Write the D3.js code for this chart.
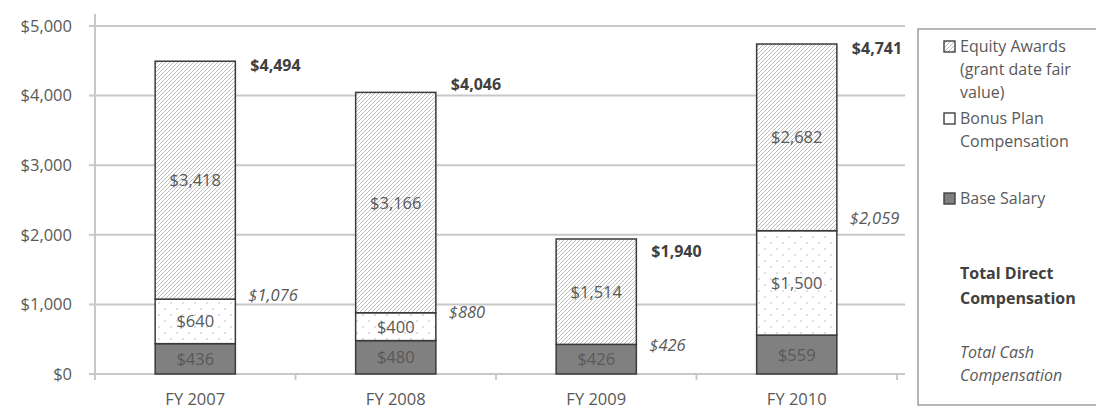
<!DOCTYPE html>
<html><head><meta charset="utf-8">
<script src="https://cdn.jsdelivr.net/npm/d3@7"></script>
<style>body{margin:0;background:#fff}svg{display:block}text{font-family:"Open Sans",Lato,sans-serif}</style>
</head><body><svg id="c" width="1096" height="412"></svg>
<script>
const categories = ["FY 2007","FY 2008","FY 2009","FY 2010"];
const baseSalary = [436,480,426,559];
const bonusPlan = [640,400,0,1500];
const equityAwards = [3418,3166,1514,2682];
const totalDirect = [4494,4046,1940,4741];
const totalCash = [1076,880,426,2059];
const yTicks = [0,1000,2000,3000,4000,5000];
const legendItems = [
  {key:"equity", lines:["Equity Awards","(grant date fair","value)"]},
  {key:"bonus", lines:["Bonus Plan","Compensation"]},
  {key:"base", lines:["Base Salary"]}
];
// label placement nudges (px, layout only)
const directNudge = [10,-2,18,10];
const cashNudge = [2,5,7,-7];

const svg = d3.select("#c");
const defs = svg.append("defs");
const hatch = defs.append("pattern").attr("id","hatch").attr("patternUnits","userSpaceOnUse")
  .attr("width",4).attr("height",4);
hatch.append("rect").attr("width",4).attr("height",4).attr("fill","#fff");
hatch.append("path").attr("d","M-1,1 l2,-2 M0,4 l4,-4 M3,5 l2,-2").attr("stroke","#b4b4b4").attr("stroke-width",0.9);
const dots = defs.append("pattern").attr("id","dots").attr("patternUnits","userSpaceOnUse")
  .attr("width",12).attr("height",12);
dots.append("rect").attr("width",12).attr("height",12).attr("fill","#fff");
dots.append("circle").attr("cx",3).attr("cy",3).attr("r",0.7).attr("fill","#aaa");
dots.append("circle").attr("cx",9).attr("cy",9).attr("r",0.7).attr("fill","#aaa");

const x = d3.scaleBand().domain(categories).range([95,897]).paddingInner(0.6).paddingOuter(0.3);
const y = d3.scaleLinear().domain([0,5000]).range([374,26]);
const grey = "#595959";
const fmt = v=>"$"+d3.format(",")(v);

// gridlines
svg.append("g").selectAll("line").data(yTicks).join("line")
  .attr("x1",95).attr("x2",905).attr("y1",d=>y(d)).attr("y2",d=>y(d))
  .attr("stroke","#c8c8c8").attr("stroke-width",2);
// y axis
const yAxis = svg.append("g").attr("transform","translate(95,0)")
  .call(d3.axisLeft(y).tickValues(yTicks).tickSize(0).tickPadding(23).tickFormat(fmt));
yAxis.select(".domain").remove();
yAxis.selectAll("text").attr("font-size",16.5).attr("fill",grey);
svg.append("line").attr("x1",95).attr("x2",95).attr("y1",14).attr("y2",374).attr("stroke","#c8c8c8").attr("stroke-width",2);
svg.append("g").selectAll("line").data(yTicks).join("line")
  .attr("x1",89).attr("x2",95).attr("y1",d=>y(d)).attr("y2",d=>y(d)).attr("stroke","#c8c8c8").attr("stroke-width",2);
// x ticks
svg.append("g").selectAll("line").data(d3.range(categories.length+1)).join("line")
  .attr("x1",i=>95+i*x.step()).attr("x2",i=>95+i*x.step()).attr("y1",374).attr("y2",380)
  .attr("stroke","#c8c8c8").attr("stroke-width",2);
// x labels
svg.append("g").selectAll("text").data(categories).join("text")
  .attr("x",d=>x(d)+x.bandwidth()/2).attr("y",405).attr("text-anchor","middle")
  .attr("font-size",16.5).attr("fill",grey).text(d=>d);

const stack = categories.map((c,i)=>[
  {key:"base", v0:0, v1:baseSalary[i], fill:"#808080"},
  {key:"bonus", v0:baseSalary[i], v1:baseSalary[i]+bonusPlan[i], fill:"url(#dots)"},
  {key:"equity", v0:baseSalary[i]+bonusPlan[i], v1:baseSalary[i]+bonusPlan[i]+equityAwards[i], fill:"url(#hatch)"}
].map(s=>({...s,cat:c,val:s.v1-s.v0})).filter(s=>s.val>0));

const g = svg.append("g");
stack.flat().forEach(s=>{
  g.append("rect").attr("x",x(s.cat)).attr("width",x.bandwidth())
    .attr("y",y(s.v1)).attr("height",y(s.v0)-y(s.v1))
    .attr("fill",s.fill).attr("stroke","#3a3a3a").attr("stroke-width",1.5);
});
stack.flat().forEach(s=>{
  g.append("text").attr("x",x(s.cat)+x.bandwidth()/2).attr("y",(y(s.v0)+y(s.v1))/2+6)
    .attr("text-anchor","middle").attr("font-size",16.5).attr("fill",grey)
    .text(fmt(s.val));
});
// totals
svg.append("g").selectAll("text").data(categories).join("text")
  .attr("x",d=>x(d)+x.bandwidth()+15).attr("y",(d,i)=>y(totalDirect[i])+directNudge[i])
  .attr("font-size",16).attr("font-weight","bold").attr("fill","#404040")
  .text((d,i)=>fmt(totalDirect[i]));
svg.append("g").selectAll("text").data(categories).join("text")
  .attr("x",d=>x(d)+x.bandwidth()+13).attr("y",(d,i)=>y(totalCash[i])+cashNudge[i])
  .attr("font-size",16.5).attr("font-style","italic").attr("fill",grey)
  .text((d,i)=>fmt(totalCash[i]));

// legend
svg.append("path").attr("d","M1100,29 H918 V405 H1100").attr("fill","#fff").attr("stroke","#a0a0a0").attr("stroke-width",1.5);
const fills = {equity:"url(#hatch)", bonus:"#fff", base:"#808080"};
const legY = [52,124,204];
legendItems.forEach((it,k)=>{
  svg.append("rect").attr("x",944).attr("y",legY[k]-11).attr("width",11).attr("height",11)
    .attr("fill",fills[it.key]).attr("stroke","#404040").attr("stroke-width",1.4);
  it.lines.forEach((l,j)=>{
    svg.append("text").attr("x",960).attr("y",legY[k]+j*23).attr("font-size",16).attr("fill",grey).text(l);
  });
});
["Total Direct","Compensation"].forEach((l,j)=>svg.append("text").attr("x",960).attr("y",279+j*25)
  .attr("font-size",16).attr("font-weight","bold").attr("fill","#404040").text(l));
["Total Cash","Compensation"].forEach((l,j)=>svg.append("text").attr("x",960).attr("y",358+j*23)
  .attr("font-size",16).attr("font-style","italic").attr("fill",grey).text(l));
</script></body></html>
